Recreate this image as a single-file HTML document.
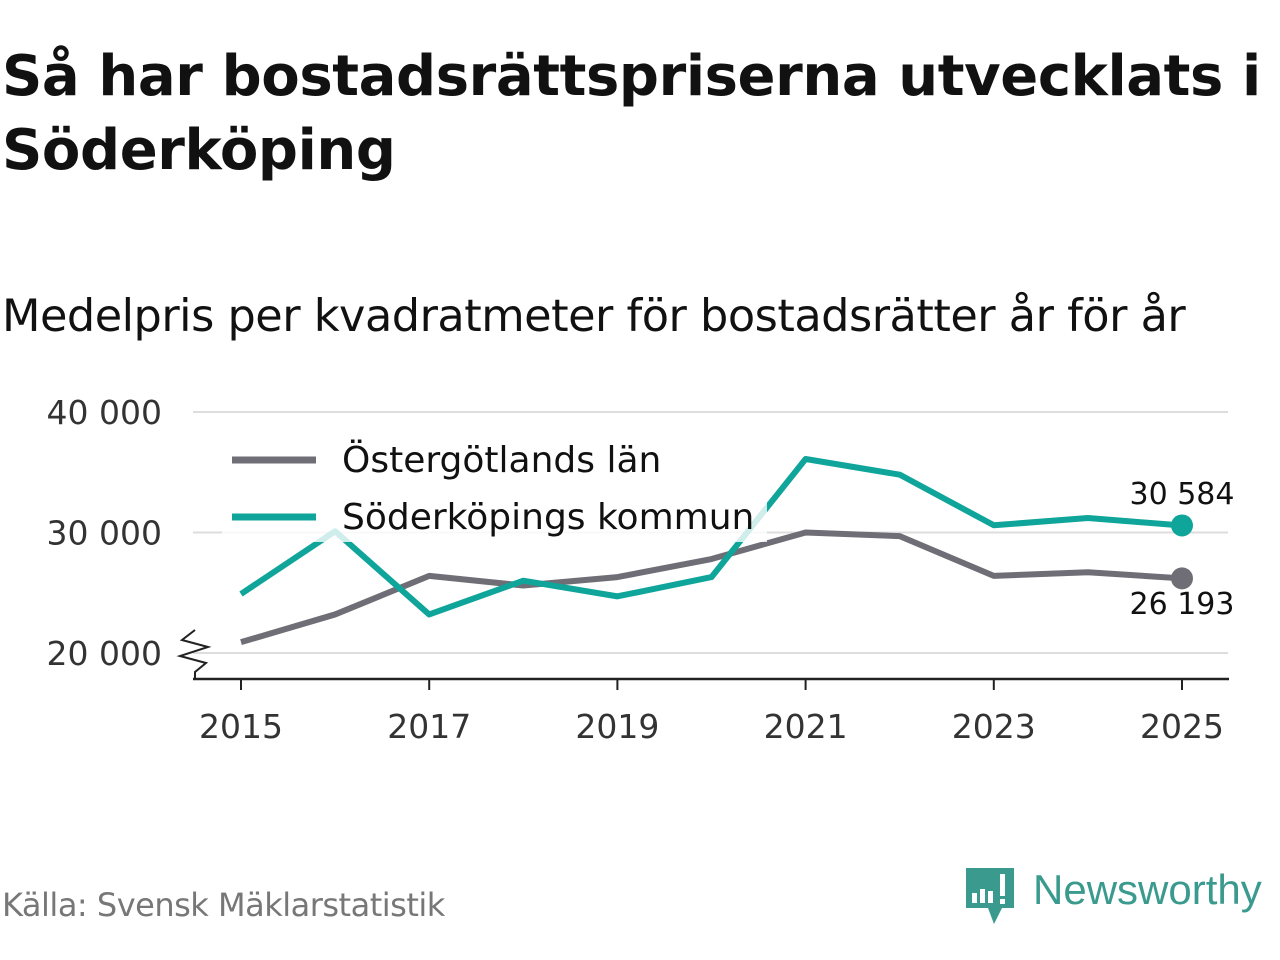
<!DOCTYPE html>
<html><head><meta charset="utf-8"><style>
body{margin:0;width:1280px;height:960px;background:#fff;font-family:"DejaVu Sans","Liberation Sans",sans-serif;overflow:hidden;position:relative}
#t{position:absolute;left:2px;top:40px;font-size:56px;font-weight:bold;line-height:74px;color:#111;letter-spacing:-0.4px}
#s{position:absolute;left:2px;top:290px;font-size:44.6px;color:#111;letter-spacing:-0.5px}
#src{position:absolute;left:2px;top:886px;font-size:32px;color:#777;letter-spacing:-0.5px}
</style></head><body>
<div id="t">Så har bostadsrättspriserna utvecklats i<br>Söderköping</div>
<div id="s">Medelpris per kvadratmeter för bostadsrätter år för år</div>
<div id="src">Källa: Svensk Mäklarstatistik</div>
<svg width="1280" height="960" style="position:absolute;left:0;top:0" id="svg">
<g>
<path d="M966 868h48v40h-12l-8 16-6-16h-22z" fill="#3a9a8e"/>
<rect x="972" y="893" width="5" height="10" fill="#fff"/><rect x="980" y="889" width="5" height="14" fill="#fff"/><rect x="988" y="891" width="5" height="12" fill="#fff"/><rect x="1000" y="874" width="5" height="22" fill="#fff"/><rect x="1000" y="899" width="5" height="5" fill="#fff"/>
<text x="1033" y="904" font-size="42" fill="#3a9a8e" font-family="Liberation Sans, sans-serif">Newsworthy</text>
</g>
</svg>
<script>
const years=[2015,2016,2017,2018,2019,2020,2021,2022,2023,2024,2025];
const lan=[20900,23200,26400,25600,26300,27800,30000,29700,26400,26700,26193];
const kom=[24900,30100,23200,26000,24700,26300,36100,34800,30600,31200,30584];
const yTicks=[20000,30000,40000];
const xTicks=[2015,2017,2019,2021,2023,2025];
const svg=document.getElementById('svg');const NS='http://www.w3.org/2000/svg';
const X=y=>241+(y-2015)*94.1;const Y=v=>653-(v-20000)*0.01205;
function mk(t,a,p){const e=document.createElementNS(NS,t);for(const k in a)e.setAttribute(k,a[k]);(p||svg).appendChild(e);return e;}
const fmt=v=>String(v).replace(/\B(?=(\d{3})+$)/g,' ');
yTicks.forEach(v=>{
const l=mk('line',{x1:193,x2:1228,y1:Y(v),y2:Y(v),stroke:'#ddd','stroke-width':2});

const t=mk('text',{x:162,y:Y(v)+12,'font-size':33,'text-anchor':'end',fill:'#333'});t.textContent=fmt(v);

});
const ax=mk('line',{x1:193,x2:1229,y1:679,y2:679,stroke:'#222','stroke-width':2.5});

const br=mk('path',{d:'M195 630 L182 640 L208 647 L180 656 L206 663 L195 672 L195 679',fill:'none',stroke:'#222','stroke-width':2});

xTicks.forEach(y=>{
mk('line',{x1:X(y),x2:X(y),y1:679,y2:690,stroke:'#222','stroke-width':2});
const t=mk('text',{x:X(y),y:738,'font-size':33,'text-anchor':'middle',fill:'#333'});t.textContent=y;

});
function series(vals,col,name){
const p=mk('polyline',{points:vals.map((v,i)=>X(years[i])+','+Y(v)).join(' '),fill:'none',stroke:col,'stroke-width':6,'stroke-linejoin':'round'});

const n=vals.length-1;
const c=mk('circle',{cx:X(years[n]),cy:Y(vals[n]),r:11,fill:col});

}
series(lan,'#6f6e76','lan');series(kom,'#0fa59a','kommun');
const bg=mk('rect',{x:222,y:432,width:545,height:110,fill:'#fff','fill-opacity':0.8});

[['Östergötlands län','#6f6e76',460],['Söderköpings kommun','#0fa59a',517]].forEach(([n,c,y])=>{
const g=mk('g',{});
mk('line',{x1:232,x2:316,y1:y,y2:y,stroke:c,'stroke-width':7},g);
const t=mk('text',{x:342,y:y+12,'font-size':36,fill:'#111'},g);t.textContent=n;
});
const a=mk('text',{x:1182,y:504,'font-size':30,'text-anchor':'middle',fill:'#111'});a.textContent=fmt(kom[kom.length-1]);

const b=mk('text',{x:1182,y:614,'font-size':30,'text-anchor':'middle',fill:'#111'});b.textContent=fmt(lan[lan.length-1]);

</script>
</body></html>
